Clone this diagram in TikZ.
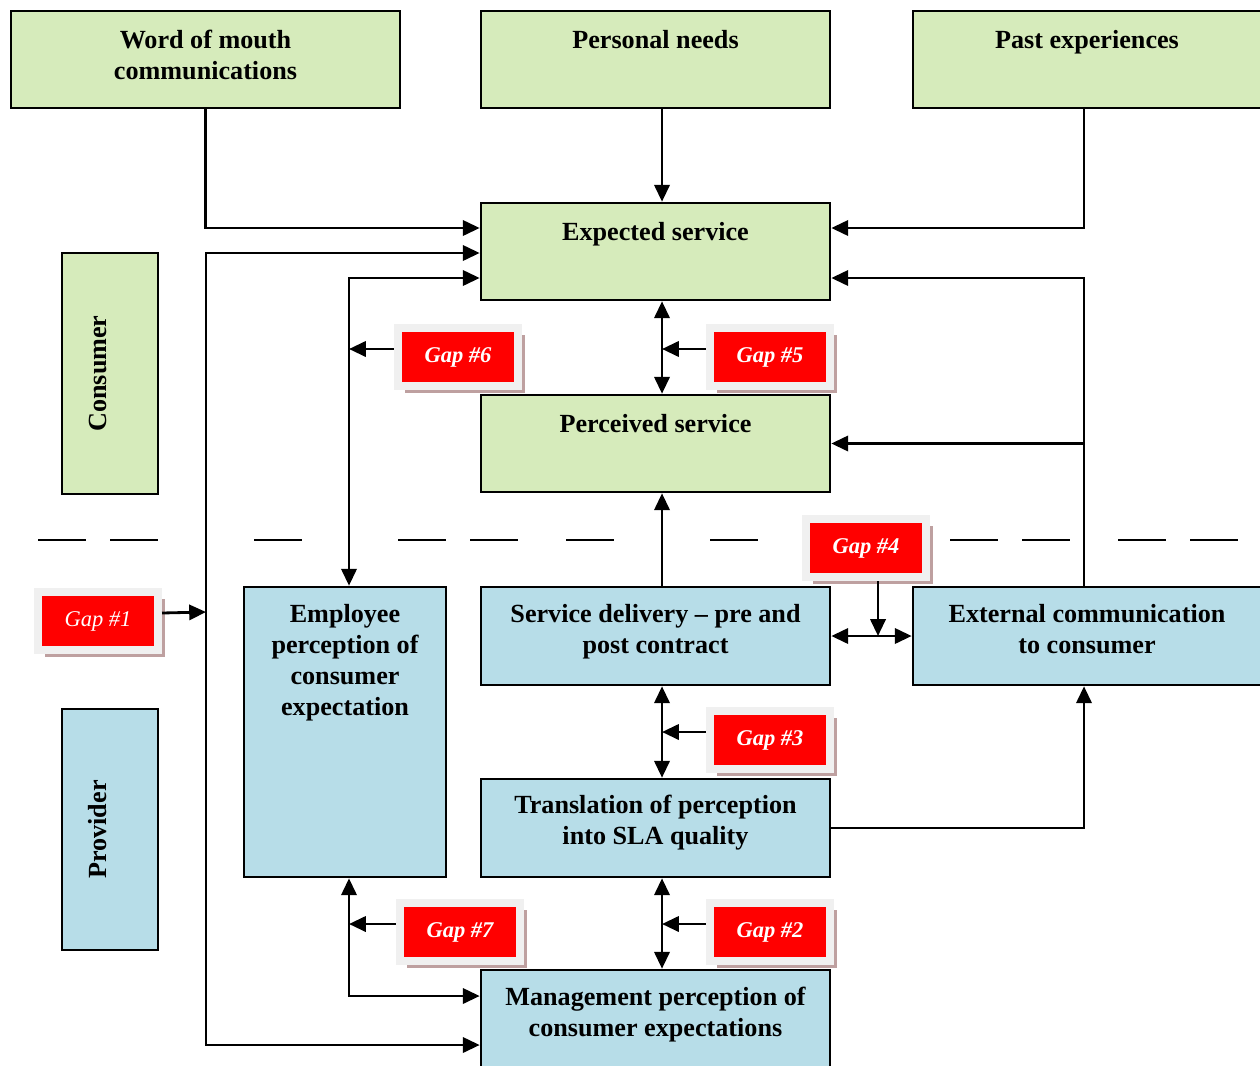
\documentclass[tikz,border=0pt]{standalone}
\usepackage{fontspec}
\setmainfont{Liberation Serif}
\usetikzlibrary{positioning,arrows.meta,shadows}

\definecolor{consgreen}{RGB}{214,235,187}
\definecolor{provblue}{RGB}{183,221,232}
\definecolor{gapframe}{RGB}{240,240,240}
\definecolor{gapshade}{RGB}{190,160,160}

\tikzset{
    box/.style={draw, line width=1.8pt, inner sep=0pt},
    consbox/.style={box, fill=consgreen},
    provbox/.style={box, fill=provblue},
    lbl/.style={font=\bfseries\fontsize{18.6}{22}\selectfont, align=center, inner sep=0pt},
    gapbox/.style={fill=red, draw=gapframe, line width=0.2cm, minimum width=3cm, minimum height=1.45cm,
        text=white, font=\bfseries\itshape\fontsize{16}{19}\selectfont,
        drop shadow={shadow xshift=0.18cm, shadow yshift=-0.18cm, fill=gapshade, opacity=1}},
    arr/.style={-{Triangle[length=0.42cm,width=0.38cm]}, line width=2pt},
    arr2/.style={{Triangle[length=0.42cm,width=0.38cm]}-{Triangle[length=0.42cm,width=0.38cm]}, line width=2pt},
    gaparr/.style={arr}
}

\begin{document}
\begin{tikzpicture}[x=0.025cm, y=-0.025cm]
    \useasboundingbox (0,0) rectangle (1260,1065);

    % consumer side
    \node[consbox, minimum width=9.725cm, minimum height=2.425cm] (wom) at (205.5,59.5) {};
    \node[consbox, minimum width=8.725cm, minimum height=2.425cm] (needs) at (655.5,59.5) {};
    \node[consbox, minimum width=8.7cm, minimum height=2.425cm] (past) at (1087,59.5) {};
    \node[consbox, minimum width=8.725cm, minimum height=2.425cm] (exp) at (655.5,251.5) {};
    \node[consbox, minimum width=8.725cm, minimum height=2.425cm] (perc) at (655.5,443.5) {};
    \node[consbox, minimum width=2.4cm, minimum height=6.025cm] (cons) at (110,373.5) {};

    % provider side
    \node[provbox, minimum width=2.4cm, minimum height=6.025cm] (prov) at (110,829.5) {};
    \node[provbox, minimum width=5.05cm, minimum height=7.25cm] (emp) at (345,732) {};
    \node[provbox, minimum width=8.725cm, minimum height=2.45cm] (sd) at (655.5,636) {};
    \node[provbox, minimum width=8.7cm, minimum height=2.45cm] (ext) at (1087,636) {};
    \node[provbox, minimum width=8.725cm, minimum height=2.45cm] (trans) at (655.5,828) {};
    \node[provbox, minimum width=8.725cm, minimum height=2.75cm] (mgmt) at (655.5,1025) {};

    % box texts
    \node[lbl, below=0.5cm of wom.north] (twom) {Word of mouth\\communications};
    \node[lbl, below=0.5cm of needs.north] (tneeds) {Personal needs};
    \node[lbl, below=0.5cm of past.north] (tpast) {Past experiences};
    \node[lbl, below=0.5cm of exp.north] (texp) {Expected service};
    \node[lbl, below=0.5cm of perc.north] (tperc) {Perceived service};
    \node[lbl, rotate=90] (tcons) at ([xshift=-0.3cm]cons.center) {Consumer};
    \node[lbl, rotate=90] (tprov) at ([xshift=-0.3cm]prov.center) {Provider};
    \node[lbl, below=0.47cm of emp.north] (temp) {Employee\\perception of\\consumer\\expectation};
    \node[lbl, below=0.47cm of sd.north] (tsd) {Service delivery -- pre and\\post contract};
    \node[lbl, below=0.47cm of ext.north] (text) {External communication\\to consumer};
    \node[lbl, below=0.42cm of trans.north] (ttrans) {Translation of perception\\into SLA quality};
    \node[lbl, below=0.45cm of mgmt.north] (tmgmt) {Management perception of\\consumer expectations};

    % separator
    \foreach \x in {38,110,254,398,470,566,710,950,1022,1118,1190}
        \draw[line width=1.6pt] (\x,540) -- ++(48,0);

    % gaps
    \foreach \n/\x/\y in {2/770/932, 3/770/740, 4/866/548, 5/770/357, 6/458/357, 7/460/932}
        \node[gapbox] (g\n) at (\x,\y) {Gap \#\n};
    \node[gapbox, font=\itshape\fontsize{16}{19}\selectfont] (g1) at (98,621) {Gap \#1};

    % helper lines
    \coordinate (axis) at (662,0);
    \coordinate (raxis) at (1084,0);
    \coordinate (ex) at (349,278);
    \coordinate (lbus) at (206,612);
    \coordinate (ytop) at (0,228);
    \coordinate (ybus) at (0,253);
    \coordinate (ymg1) at (0,996);
    \coordinate (ymg2) at (0,1045);

    % inputs to expected service
    \draw[arr] (wom.south) |- (exp.west |- ytop);
    \draw[arr] (needs.south -| axis) -- (exp.north -| axis);
    \draw[arr] (past.south -| raxis) |- (exp.east |- ytop);
    \draw[arr2] (exp.west |- ybus) -| (lbus) |- (mgmt.west |- ymg2);
    \draw[arr2] (exp.west |- ex) -| (emp.north -| ex);
    \draw[arr2] (exp.south -| axis) -- (perc.north -| axis);

    % provider chain
    \draw[arr] (sd.north -| axis) -- (perc.south -| axis);
    \draw[arr] (ext.north -| raxis) |- (exp.east |- ex);
    \draw[arr] (perc.east -| raxis) -- (perc.east);
    \draw[arr2] (sd.east) -- (ext.west);
    \draw[arr2] (sd.south -| axis) -- (trans.north -| axis);
    \draw[arr] (trans.east) -| (ext.south -| raxis);
    \draw[arr2] (trans.south -| axis) -- (mgmt.north -| axis);
    \draw[arr2] (emp.south -| ex) |- (mgmt.west |- ymg1);

    % gap pointers
    \draw[gaparr] ([yshift=0.2cm]g1.east) -- (lbus);
    \draw[gaparr] ([yshift=0.2cm]g2.west) -- ([yshift=0.2cm]g2.west -| axis);
    \draw[gaparr] ([yshift=0.2cm]g3.west) -- ([yshift=0.2cm]g3.west -| axis);
    \draw[gaparr] ([xshift=0.3cm]g4.south) -- ([xshift=0.3cm]g4.south |- sd.east);
    \draw[gaparr] ([yshift=0.2cm]g5.west) -- ([yshift=0.2cm]g5.west -| axis);
    \draw[gaparr] ([yshift=0.2cm]g6.west) -- ([yshift=0.2cm]g6.west -| ex);
    \draw[gaparr] ([yshift=0.2cm]g7.west) -- ([yshift=0.2cm]g7.west -| ex);
\end{tikzpicture}
\end{document}
